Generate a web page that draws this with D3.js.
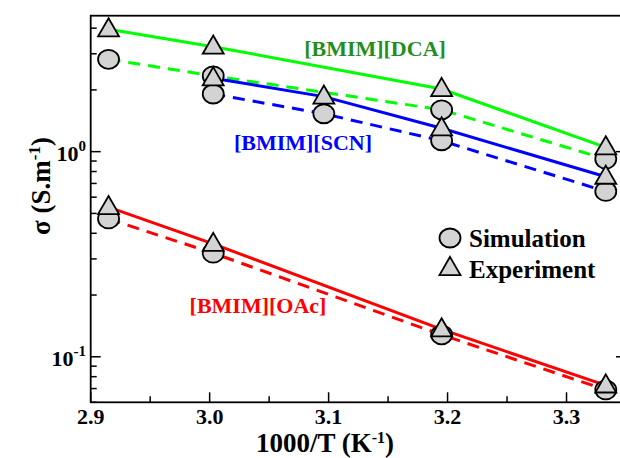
<!DOCTYPE html>
<html>
<head>
  <meta charset="UTF-8">
</head>
<body style="margin:0">
  <svg width="620" height="458"></svg>
  <script src="https://d3js.org/d3.v7.min.js"></script>
  <script>
    // data (1000/T in 1/K, sigma in S/m)
    const xDCA = [2.915, 3.003, 3.195, 3.333];
    const expDCA = [3.95, 3.25, 2.02, 1.05];
    const simDCA = [2.82, 2.34, 1.60, 0.92];

    const xSCN = [3.003, 3.096, 3.195, 3.333];
    const expSCN = [2.28, 1.855, 1.30, 0.755];
    const simSCN = [1.91, 1.53, 1.13, 0.64];

    const xOAc = [2.915, 3.003, 3.195, 3.333];
    const expOAc = [0.537, 0.355, 0.136, 0.0725];
    const simOAc = [0.47, 0.32, 0.128, 0.069];

    const xTicks = [2.9, 3.0, 3.1, 3.2, 3.3];

    const series = [
      { xs: xDCA, exp: expDCA, sim: simDCA, color: "#00ff00" },
      { xs: xSCN, exp: expSCN, sim: simSCN, color: "#0000ff" },
      { xs: xOAc, exp: expOAc, sim: simOAc, color: "#ff0000" }
    ];

    const svg = d3.select("svg");
    const pL = 90.7, pR = 626, pT = 15.7, pB = 402.3;

    const x = d3.scaleLinear().domain([2.9, 3.35]).range([pL, pR]);
    const y = d3.scaleLog().domain([0.06, 4.6]).range([pB, pT]);

    // helper: bold serif text
    function label(sel, px, py, size) {
      return sel.append("text").attr("x", px).attr("y", py)
        .attr("font-size", size).attr("font-weight", "bold")
        .style("font-family", '"Liberation Serif"');
    }

    // ticks, drawn inward (y on both sides, x at the bottom only)
    const yT = [];
    [0.01, 0.1, 1].forEach(b => { for (let k = 1; k <= 9; k++) yT.push(b * k); });
    const g = svg.append("g");
    yT.filter(v => v >= 0.06 && v <= 4.6).forEach(v => {
      const major = Math.abs(Math.log10(v) - Math.round(Math.log10(v))) < 1e-9;
      const len = major ? 10 : 6;
      g.append("line").attr("x1", pL).attr("x2", pL + len)
        .attr("y1", y(v)).attr("y2", y(v)).attr("stroke", "#000").attr("stroke-width", 1.5);
      g.append("line").attr("x1", pR).attr("x2", pR - len)
        .attr("y1", y(v)).attr("y2", y(v)).attr("stroke", "#000").attr("stroke-width", 1.5);
    });
    d3.range(0, 10).map(i => 2.9 + i * 0.05).forEach((v, i) => {
      const len = i % 2 === 0 ? 10 : 6;
      g.append("line").attr("x1", x(v)).attr("x2", x(v))
        .attr("y1", pB).attr("y2", pB - len).attr("stroke", "#000").attr("stroke-width", 1.5);
    });

    // frame
    svg.append("rect").attr("x", pL).attr("y", pT)
      .attr("width", pR - pL).attr("height", pB - pT)
      .attr("fill", "none").attr("stroke", "#000").attr("stroke-width", 1.8);

    // tick labels
    xTicks.forEach(d => {
      label(svg, x(d), 424, 22).attr("text-anchor", "middle").text(d.toFixed(1));
    });
    [[1, "0"], [0.1, "-1"]].forEach(([v, e]) => {
      const t = label(svg, 86, y(v) + 9, 22).attr("text-anchor", "end");
      t.append("tspan").text("10");
      t.append("tspan").attr("dy", -10).attr("font-size", 15).text(e);
    });

    // axis titles
    const xt = label(svg, 325, 452, 27).attr("text-anchor", "middle");
    xt.append("tspan").text("1000/T (K");
    xt.append("tspan").attr("dy", -9).attr("font-size", 16).text("-1");
    xt.append("tspan").attr("dy", 9).text(")");

    const yt = label(svg, 0, 0, 27).attr("text-anchor", "middle")
      .attr("transform", "translate(50,186) rotate(-90)");
    yt.append("tspan").text("\u03c3 (S.m");
    yt.append("tspan").attr("dy", -10).attr("font-size", 17).text("-1");
    yt.append("tspan").attr("dy", 10).text(")");

    // lines
    const line = d3.line().x(d => x(d[0])).y(d => y(d[1]));
    series.forEach(s => {
      svg.append("path").attr("d", line(d3.zip(s.xs, s.exp)))
        .attr("fill", "none").attr("stroke", s.color).attr("stroke-width", 3);
      svg.append("path").attr("d", line(d3.zip(s.xs, s.sim)))
        .attr("fill", "none").attr("stroke", s.color).attr("stroke-width", 3)
        .attr("stroke-dasharray", "12,8");
    });

    // markers: circles (simulation) then triangles (experiment)
    const tri = d3.symbol().type(d3.symbolTriangle).size(190);
    series.forEach(s => {
      svg.append("g").selectAll("ellipse").data(d3.zip(s.xs, s.sim)).enter()
        .append("ellipse").attr("cx", d => x(d[0])).attr("cy", d => y(d[1]))
        .attr("rx", 10.5).attr("ry", 9.5)
        .attr("fill", "#d3d3d3").attr("stroke", "#000").attr("stroke-width", 1.8);
    });
    series.forEach(s => {
      svg.append("g").selectAll("path").data(d3.zip(s.xs, s.exp)).enter()
        .append("path").attr("d", tri)
        .attr("transform", d => `translate(${x(d[0])},${y(d[1]) + 1})`)
        .attr("fill", "#d3d3d3").attr("stroke", "#000").attr("stroke-width", 1.8);
    });

    // series labels
    label(svg, 375, 56, 22).attr("text-anchor", "middle").attr("fill", "#1f8f1f").text("[BMIM][DCA]");
    label(svg, 303, 150, 22).attr("text-anchor", "middle").attr("fill", "#0000ff").text("[BMIM][SCN]");
    label(svg, 258, 313, 22).attr("text-anchor", "middle").attr("fill", "#ff0000").text("[BMIM][OAc]");

    // legend
    svg.append("ellipse").attr("cx", 450).attr("cy", 238).attr("rx", 10.5).attr("ry", 9.5)
      .attr("fill", "#d3d3d3").attr("stroke", "#000").attr("stroke-width", 1.8);
    svg.append("path").attr("d", tri).attr("transform", "translate(450,269)")
      .attr("fill", "#d3d3d3").attr("stroke", "#000").attr("stroke-width", 1.8);
    label(svg, 469, 247, 25).text("Simulation");
    label(svg, 469, 278, 25).text("Experiment");
  </script>
</body>
</html>
